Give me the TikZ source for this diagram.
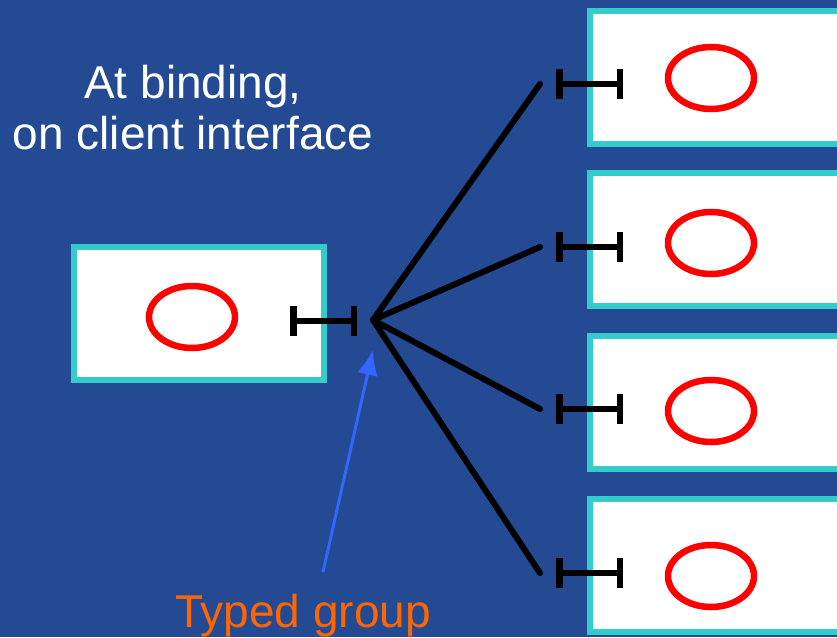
\documentclass[tikz,border=0pt]{standalone}
\usepackage{fontspec}
\setmainfont{Liberation Sans}
\usetikzlibrary{positioning,shapes.geometric,arrows.meta}
\definecolor{slidebg}{RGB}{36,74,147}
\definecolor{boxedge}{RGB}{51,204,204}
\definecolor{grouporange}{RGB}{255,102,0}
\definecolor{pointblue}{RGB}{51,102,255}

\begin{document}
\begin{tikzpicture}[
        x=1pt,
        y=-1pt,
        comp/.style={
          rectangle,
          draw=boxedge,
          fill=white,
          line width=6pt,
          inner sep=0pt,
          outer sep=0pt,
          minimum height=133pt
          },
        prim/.style={
          ellipse,
          draw=red,
          line width=6.5pt,
          minimum width=86pt,
          minimum height=62pt,
          inner sep=0pt
          },
        iface/.style={
          line width=6.5pt,
          {Bar[width=30pt]}-{Bar[width=30pt]}
          },
        wire/.style={
          line width=6pt,
          line cap=round
          },
        slidetext/.style={
          font=\fontsize{46}{51}\selectfont,
          inner sep=0pt
          },
        >={Latex[length=25pt,width=21pt]}
        ]
        \fill[slidebg] (0,0) rectangle (837,637);
        \clip (0,0) rectangle (837,637);
        % client side
        \node[comp, minimum width=250pt] (client) at (199,313.5) {};
        \node[prim] (cobj) at (192,317) {};
        \draw[iface] (290,321) -- (357,321);
        \coordinate (hub) at (373,320);
        % servers
        \foreach \sy/\ey/\by [count=\si] in {77/78/84,239.5/243/247,402.5/411/409,565.5/576/573}
        {
          \node[comp, minimum width=260pt, anchor=west] (srv\si) at (590,\sy) {};
          \node[prim] (obj\si) at (711,\ey) {};
          \draw[iface] (556,\by) -- (623,\by);
          \coordinate (end\si) at (540,\by);
        }
        \foreach \si in {1,...,4}
          \draw[wire] (hub) -- (end\si);
        % labels
        \node[slidetext, text=white, align=center] (title) at (193,108) {At binding,\\on client interface};
        \node[slidetext, text=grouporange, anchor=base] (group) at (303,627) {Typed group};
        \coordinate (tail) at (323,572);
        \coordinate (tip) at (373,350);
        \draw[->, pointblue, line width=3pt] (tail) -- (tip);
\end{tikzpicture}
\end{document}
